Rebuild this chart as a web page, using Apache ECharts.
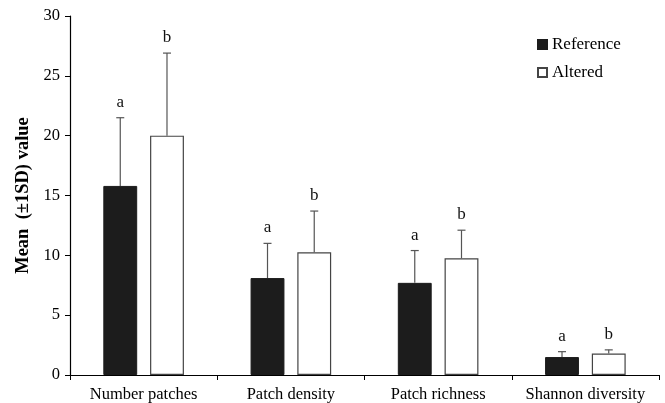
<!DOCTYPE html>
<html><head><meta charset="utf-8">
<script src="https://cdn.jsdelivr.net/npm/echarts@6/dist/echarts.min.js"></script>
<style>html,body{margin:0;padding:0;background:#fff}#c{width:665px;height:403px}</style>
</head><body><div id="c"></div>
<script>
var categories = ['Number patches', 'Patch density', 'Patch richness', 'Shannon diversity'];
var referenceMean = [15.8, 8.1, 7.7, 1.5];
var referenceSD = [5.7, 2.9, 2.7, 0.45];
var alteredMean = [20.0, 10.25, 9.75, 1.8];
var alteredSD = [6.9, 3.45, 2.35, 0.3];
var referenceLetters = ['a', 'a', 'a', 'a'];
var alteredLetters = ['b', 'b', 'b', 'b'];
var yTicks = [0, 5, 10, 15, 20, 25, 30];

var FONT = '"Liberation Serif", "Times New Roman", serif';
var BAR_FRAC = 0.23, GAP_FRAC = 0.38;

function errData(means, sds, letters, side) {
  return means.map(function (m, i) { return [i, m, sds[i], letters[i], side]; });
}
function renderErr(params, api) {
  var i = api.value(0), m = api.value(1), sd = api.value(2);
  var side = api.value(4);
  var letter = params.seriesIndex === 2 ? referenceLetters[i] : alteredLetters[i];
  var band = api.size([1, 0])[0];
  var bw = band * BAR_FRAC;
  var off = (bw + bw * GAP_FRAC) / 2 * side;
  var c = api.coord([i, m]);
  var t = api.coord([i, m + sd]);
  var x = c[0] + off;
  return {
    type: 'group',
    children: [
      { type: 'line', shape: { x1: x, y1: c[1], x2: x, y2: t[1] }, style: { stroke: '#555', lineWidth: 1.2 } },
      { type: 'line', shape: { x1: x - 4, y1: t[1], x2: x + 4, y2: t[1] }, style: { stroke: '#555', lineWidth: 1.2 } },
      { type: 'text', x: x, y: t[1] - 7, style: { text: letter, font: '17px ' + FONT, fill: '#111', align: 'center', verticalAlign: 'bottom' } }
    ]
  };
}

var chart = echarts.init(document.getElementById('c'));
chart.setOption({
  animation: false,
  backgroundColor: '#fff',
  grid: { left: 70, right: 6, top: 16, bottom: 28 },
  legend: {
    orient: 'vertical', left: 532, top: 31, itemWidth: 9, itemHeight: 9, itemGap: 11,
    icon: 'rect',
    textStyle: { fontFamily: FONT, fontSize: 17, color: '#000' },
    data: ['Reference', 'Altered']
  },
  xAxis: {
    type: 'category', data: categories,
    axisLine: { lineStyle: { color: '#000', width: 1.2 } },
    axisTick: { show: true, alignWithLabel: false, length: 5, lineStyle: { color: '#000' } },
    axisLabel: { interval: 0, hideOverlap: false, fontFamily: FONT, fontSize: 16.5, color: '#000', margin: 11 }
  },
  yAxis: {
    type: 'value', min: yTicks[0], max: yTicks[yTicks.length - 1], interval: 5,
    name: 'Mean  (\u00b11SD) value', nameLocation: 'middle', nameGap: 36,
    nameTextStyle: { fontFamily: FONT, fontSize: 18.5, fontWeight: 'bold', color: '#000' },
    axisLine: { show: true, lineStyle: { color: '#000', width: 1.2 } },
    axisTick: { show: true, length: 5, lineStyle: { color: '#000' } },
    splitLine: { show: false },
    axisLabel: { fontFamily: FONT, fontSize: 16.5, color: '#000', margin: 10 }
  },
  series: [
    { name: 'Reference', type: 'bar', data: referenceMean, barWidth: (BAR_FRAC * 100) + '%', barGap: (GAP_FRAC * 100) + '%',
      itemStyle: { color: '#1c1c1c', borderColor: '#1c1c1c', borderWidth: 1 } },
    { name: 'Altered', type: 'bar', data: alteredMean, barWidth: (BAR_FRAC * 100) + '%',
      itemStyle: { color: '#fff', borderColor: '#444', borderWidth: 1.2 } },
    { type: 'custom', renderItem: renderErr, data: errData(referenceMean, referenceSD, referenceLetters, -1), z: 5 },
    { type: 'custom', renderItem: renderErr, data: errData(alteredMean, alteredSD, alteredLetters, 1), z: 5 }
  ]
});
</script></body></html>
